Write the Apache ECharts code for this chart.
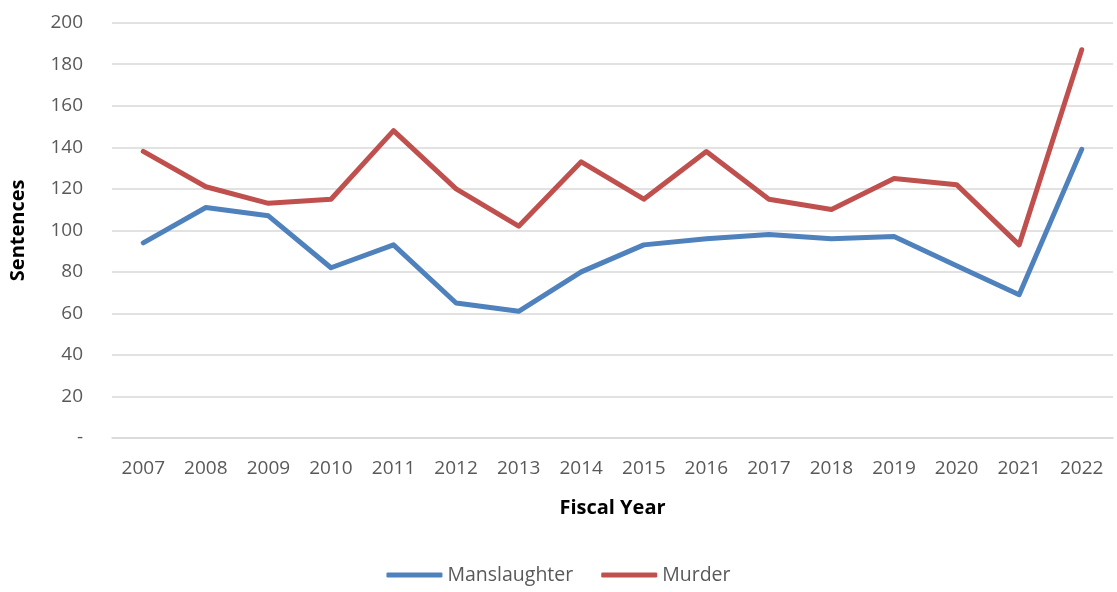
<!DOCTYPE html>
<html>
<head>
<meta charset="utf-8">
<script src="https://cdn.jsdelivr.net/npm/echarts@6/dist/echarts.min.js"></script>
<style>
html,body{margin:0;padding:0;background:#fff;}
#chart{width:1117px;height:592px;}
</style>
</head>
<body>
<div id="chart"></div>
<script>
const years = ['2007','2008','2009','2010','2011','2012','2013','2014','2015','2016','2017','2018','2019','2020','2021','2022'];
const manslaughter = [94,111,107,82,93,65,61,80,93,96,98,96,97,83,69,139];
const murder = [138,121,113,115,148,120,102,133,115,138,115,110,125,122,93,187];
const yTicks = [0,20,40,60,80,100,120,140,160,180,200];

const FONT = '"Open Sans", "Liberation Sans", sans-serif';
const chart = echarts.init(document.getElementById('chart'), null, {renderer:'canvas'});
chart.setOption({
  animation:false,
  backgroundColor:'#fff',
  grid:{left:112, right:4, top:22.7, bottom:154, containLabel:false},
  legend:{
    bottom:2, left:'center',
    itemWidth:56, itemHeight:5, itemGap:28,
    icon:'roundRect',
    textStyle:{fontFamily:FONT, fontSize:19.5, color:'#595959'},
    data:['Manslaughter','Murder']
  },
  xAxis:{
    type:'category', data:years, boundaryGap:true,
    name:'Fiscal Year', nameLocation:'middle', nameGap:60,
    nameTextStyle:{fontFamily:FONT, fontSize:20, fontWeight:'bold', color:'#000'},
    axisLine:{show:true, lineStyle:{color:'#D9D9D9', width:1.5}},
    axisTick:{show:false},
    axisLabel:{fontFamily:FONT, fontSize:19, color:'#595959', margin:21}
  },
  yAxis:{
    type:'value', min:0, max:200, interval:20,
    name:'Sentences', nameLocation:'middle', nameGap:84,
    nameTextStyle:{fontFamily:FONT, fontSize:20, fontWeight:'bold', color:'#000'},
    axisLine:{show:false}, axisTick:{show:false},
    splitLine:{lineStyle:{color:'#D9D9D9', width:1.5}},
    axisLabel:{fontFamily:FONT, fontSize:19, color:'#595959', margin:29,
      formatter:v => v === 0 ? '-' : String(v)}
  },
  series:[
    {name:'Manslaughter', type:'line', data:manslaughter, symbol:'none',
     lineStyle:{color:'#4F81BD', width:5, cap:'round', join:'round'}, itemStyle:{color:'#4F81BD'}},
    {name:'Murder', type:'line', data:murder, symbol:'none',
     lineStyle:{color:'#C0504D', width:5, cap:'round', join:'round'}, itemStyle:{color:'#C0504D'}}
  ]
});
</script>
</body>
</html>
